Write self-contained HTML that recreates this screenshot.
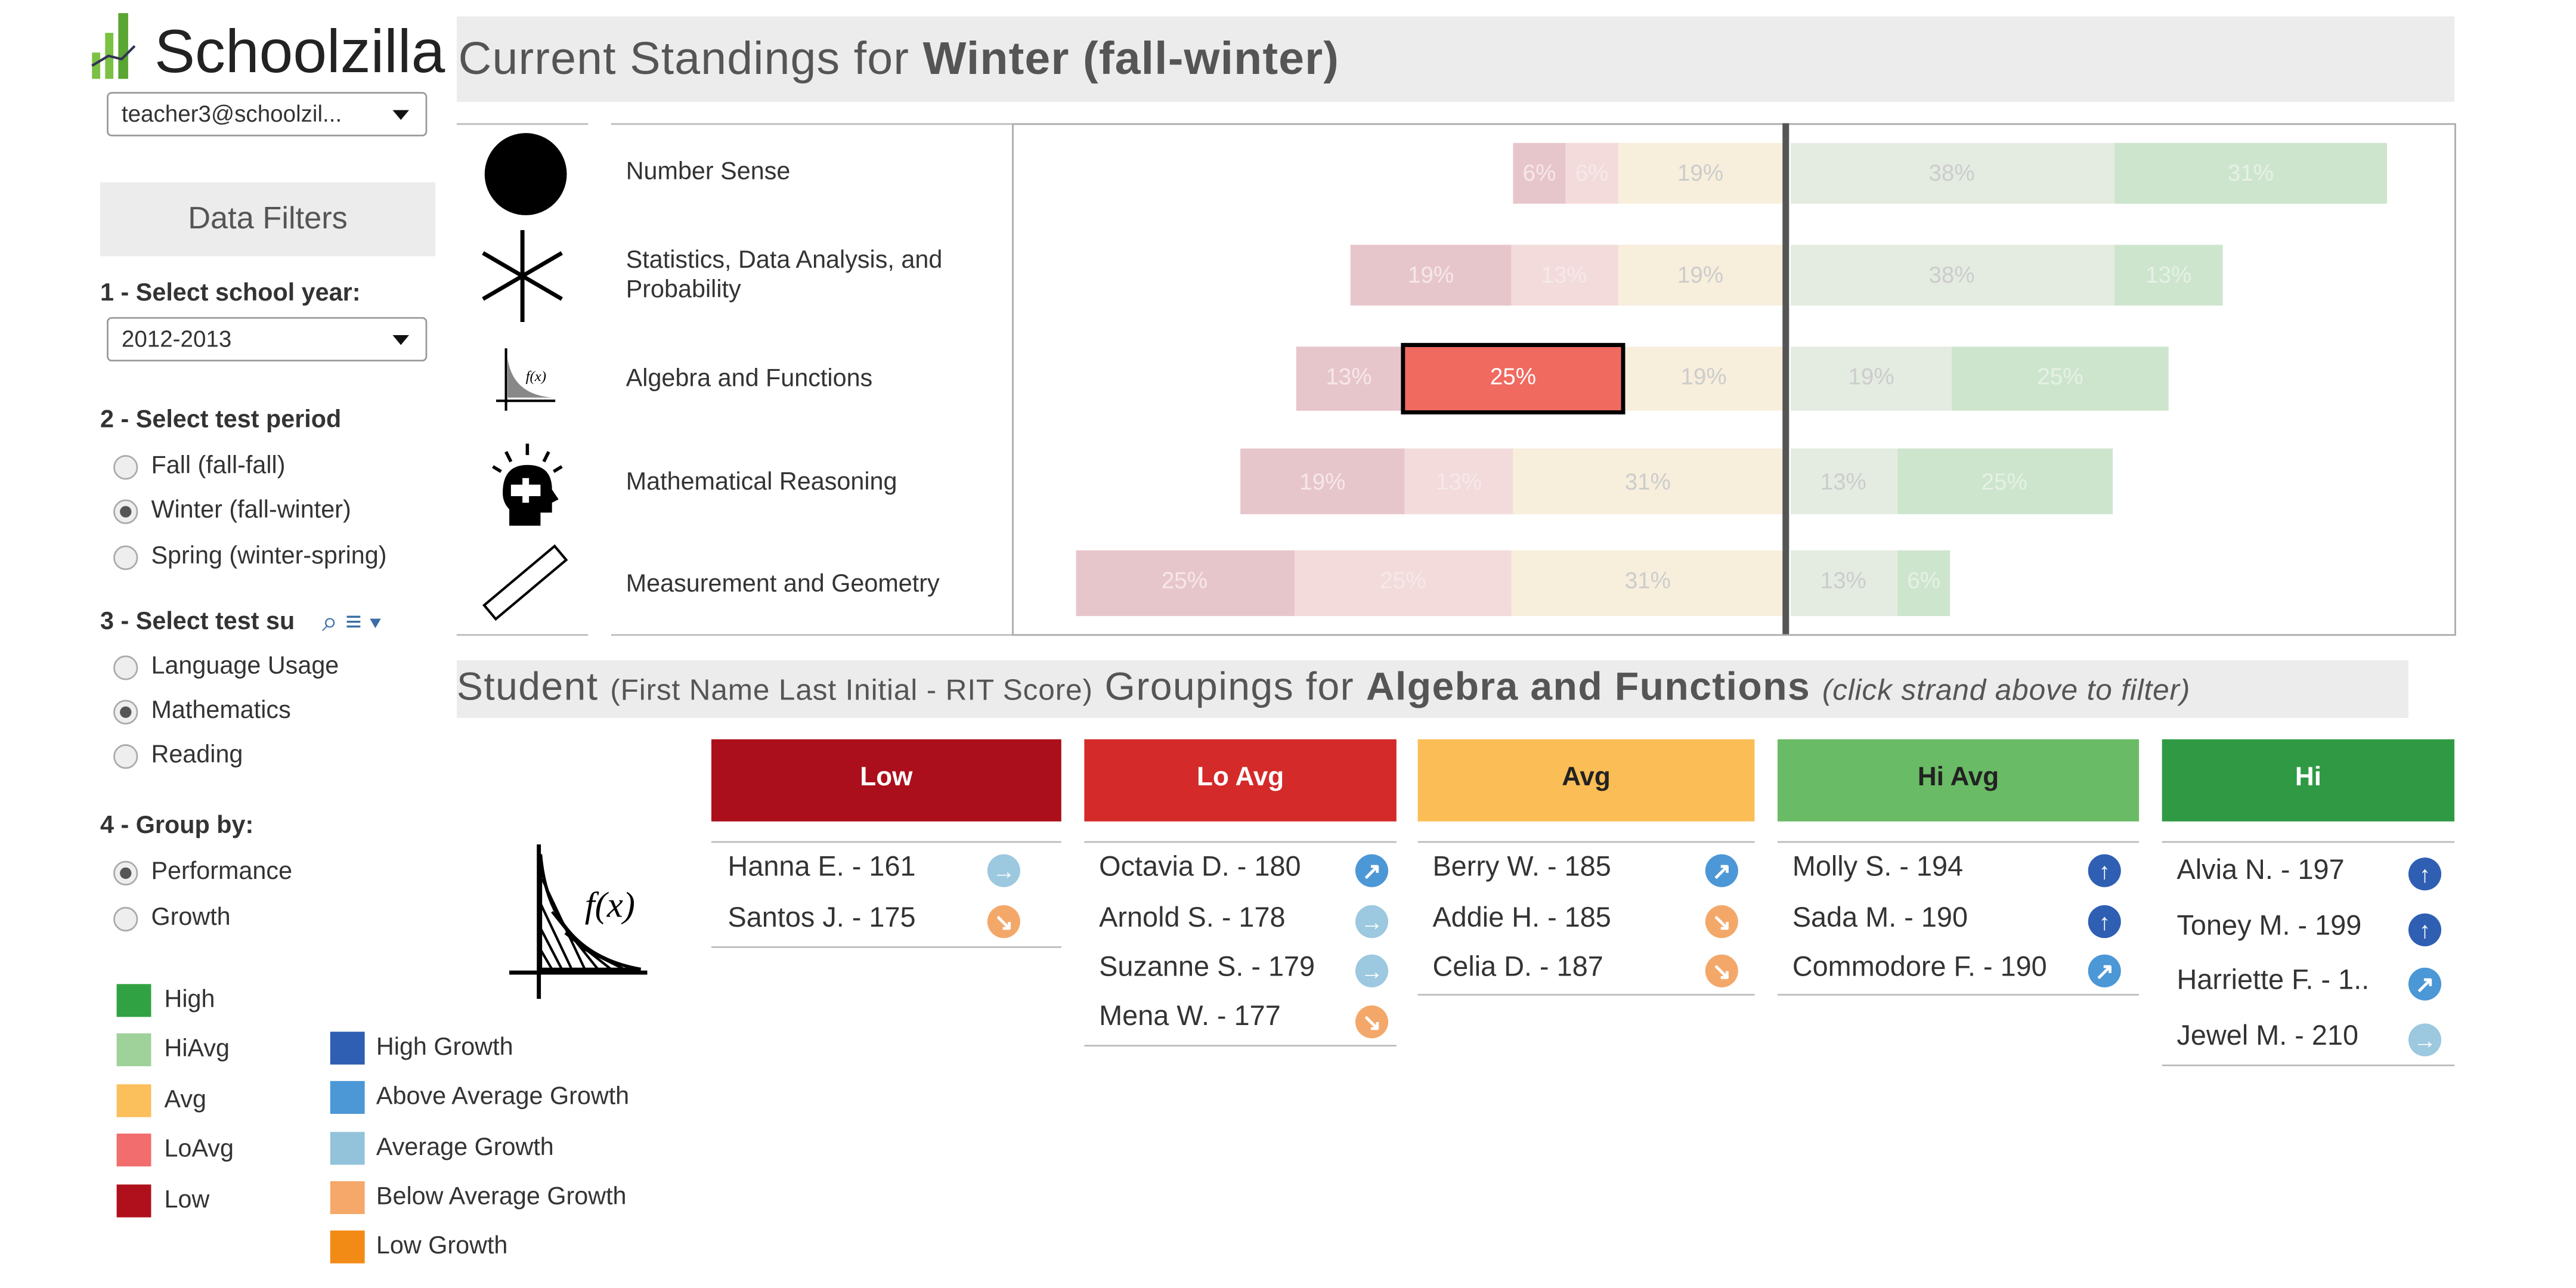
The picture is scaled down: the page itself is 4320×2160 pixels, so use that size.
<!DOCTYPE html>
<html><head><meta charset="utf-8"><style>
html,body{margin:0;padding:0;background:#fff;overflow:hidden;width:4320px;height:2160px}
#w{position:absolute;left:0;top:0;width:1568px;height:784px;transform:scale(2.7551);transform-origin:0 0;font-family:"Liberation Sans",Arial,sans-serif;color:#333}
.a{position:absolute}
.t{position:absolute;white-space:nowrap}
.hdr{background:#ececec}
.sel{position:absolute;border:1px solid #999;border-radius:3px;height:27px;box-sizing:border-box;font-size:14px;line-height:25px;padding-left:8px;background:#fff}
.sel:after{content:"";position:absolute;right:10px;top:10px;border:5px solid transparent;border-top:6px solid #111;border-bottom:0}
.rad{position:absolute;width:15px;height:15px;border-radius:50%;border:1px solid #aaa;background:#eee;box-sizing:border-box}
.rad.on:after{content:"";position:absolute;left:3px;top:3px;width:7px;height:7px;border-radius:50%;background:#555}
.lbl{font-size:15px}
.b{font-weight:bold;font-size:15px}
.sq{position:absolute;width:21px;height:20px}
.gh{position:absolute;top:450px;height:50px;color:#fff;font-weight:bold;font-size:16px;text-align:center;line-height:48px}
.row{position:absolute;font-size:17px;color:#333}
.ic{position:absolute;width:20px;height:20px;border-radius:50%;color:#fff;font-size:14px;font-weight:bold;text-align:center;line-height:20px}
.ln{position:absolute;height:1px;background:#bbb}
</style></head><body><div id="w">
<div class="a" style="left:56px;top:32px;width:5px;height:16px;background:#7bc143"></div>
<div class="a" style="left:64px;top:20px;width:5px;height:28px;background:#7bc143"></div>
<div class="a" style="left:72px;top:8px;width:6px;height:40px;background:#5aa632"></div>
<svg class="a" style="left:54px;top:20px" width="30" height="22"><path d="M2 20 L12 14 L20 16 L28 8" stroke="#335" stroke-width="1.5" fill="none"/></svg>
<div class="t" style="left:94px;top:11px;font-size:37px;color:#222">Schoolzilla</div>
<div class="sel" style="left:65px;top:56px;width:195px">teacher3@schoolzil...</div>
<div class="a hdr" style="left:61px;top:111px;width:204px;height:45px;font-size:19px;color:#555;text-align:center;line-height:45px">Data Filters</div>
<div class="t b" style="left:61px;top:170px">1 - Select school year:</div>
<div class="sel" style="left:65px;top:193px;width:195px">2012-2013</div>
<div class="t b" style="left:61px;top:247px">2 - Select test period</div>
<div class="rad" style="left:69px;top:277px"></div><div class="t lbl" style="left:92px;top:275px">Fall (fall-fall)</div>
<div class="rad on" style="left:69px;top:304px"></div><div class="t lbl" style="left:92px;top:302px">Winter (fall-winter)</div>
<div class="rad" style="left:69px;top:332px"></div><div class="t lbl" style="left:92px;top:330px">Spring (winter-spring)</div>
<div class="t b" style="left:61px;top:370px">3 - Select test su</div>
<div class="t" style="left:196px;top:369px;font-size:17px;color:#3a6ea5">⌕ ≡ ▾</div>
<div class="rad" style="left:69px;top:399px"></div><div class="t lbl" style="left:92px;top:397px">Language Usage</div>
<div class="rad on" style="left:69px;top:426px"></div><div class="t lbl" style="left:92px;top:424px">Mathematics</div>
<div class="rad" style="left:69px;top:453px"></div><div class="t lbl" style="left:92px;top:451px">Reading</div>
<div class="t b" style="left:61px;top:494px">4 - Group by:</div>
<div class="rad on" style="left:69px;top:524px"></div><div class="t lbl" style="left:92px;top:522px">Performance</div>
<div class="rad" style="left:69px;top:552px"></div><div class="t lbl" style="left:92px;top:550px">Growth</div>
<div class="sq" style="left:71px;top:599px;background:#31a244"></div><div class="t lbl" style="left:100px;top:600px">High</div>
<div class="sq" style="left:71px;top:629px;background:#9fd19a"></div><div class="t lbl" style="left:100px;top:630px">HiAvg</div>
<div class="sq" style="left:71px;top:660px;background:#fbbf5b"></div><div class="t lbl" style="left:100px;top:661px">Avg</div>
<div class="sq" style="left:71px;top:690px;background:#f26d6d"></div><div class="t lbl" style="left:100px;top:691px">LoAvg</div>
<div class="sq" style="left:71px;top:721px;background:#b0101c"></div><div class="t lbl" style="left:100px;top:722px">Low</div>
<div class="sq" style="left:201px;top:628px;background:#2f5fb3"></div><div class="t lbl" style="left:229px;top:629px">High Growth</div>
<div class="sq" style="left:201px;top:658px;background:#4c97d6"></div><div class="t lbl" style="left:229px;top:659px">Above Average Growth</div>
<div class="sq" style="left:201px;top:689px;background:#93c3da"></div><div class="t lbl" style="left:229px;top:690px">Average Growth</div>
<div class="sq" style="left:201px;top:719px;background:#f5a86a"></div><div class="t lbl" style="left:229px;top:720px">Below Average Growth</div>
<div class="sq" style="left:201px;top:749px;background:#f28a16"></div><div class="t lbl" style="left:229px;top:750px">Low Growth</div>
<div class="a hdr" style="left:278px;top:10px;width:1216px;height:52px"></div>
<div class="t" style="left:279px;top:20px;font-size:28px;color:#555;letter-spacing:0.4px">Current Standings for <b>Winter (fall-winter)</b></div>
<div class="a" style="left:616px;top:75px;width:877px;height:310px;border:1px solid #aaa"></div>
<div class="ln" style="left:278px;top:75px;width:80px"></div><div class="ln" style="left:372px;top:75px;width:244px"></div>
<div class="ln" style="left:278px;top:386px;width:80px"></div><div class="ln" style="left:372px;top:386px;width:244px"></div>
<div class="a" style="left:295px;top:81px;width:50px;height:50px;border-radius:50%;background:#000"></div>
<svg class="a" style="left:292px;top:140px" width="56" height="60"><g stroke="#000" stroke-width="2.5"><line x1="26" y1="0" x2="26" y2="56"/><line x1="2" y1="14" x2="50" y2="42"/><line x1="2" y1="42" x2="50" y2="14"/></g></svg>
<svg class="a" style="left:300px;top:210px" width="40" height="42"><path d="M8 2 V40 M2 34 H38" stroke="#000" stroke-width="1.5"/><path d="M9 8 Q12 30 36 32 L9 32Z" fill="#888"/><text x="20" y="22" font-size="9" font-style="italic" font-family="Liberation Serif">f(x)</text></svg>
<svg class="a" style="left:296px;top:270px" width="50" height="52"><g stroke="#000" stroke-width="2"><line x1="25" y1="0" x2="25" y2="7"/><line x1="12" y1="5" x2="15" y2="11"/><line x1="38" y1="5" x2="35" y2="11"/><line x1="4" y1="14" x2="9" y2="17"/><line x1="46" y1="14" x2="41" y2="17"/></g><path d="M10 30 Q10 13 25 13 Q40 13 40 28 L44 34 L40 36 L40 42 L33 42 L33 50 L14 50 L14 40 Q10 36 10 30Z" fill="#000"/><rect x="15" y="25" width="18" height="7" fill="#fff"/><rect x="22" y="21" width="4" height="15" fill="#fff"/></svg>
<svg class="a" style="left:292px;top:330px" width="56" height="50"><g transform="rotate(-40 28 25)"><rect x="0" y="19" width="56" height="11" fill="none" stroke="#000" stroke-width="1.5"/></g></svg>
<div class="t" style="left:381px;top:96px;font-size:15px">Number Sense</div>
<div class="t" style="left:381px;top:150px;font-size:15px;line-height:18px">Statistics, Data Analysis, and<br>Probability</div>
<div class="t" style="left:381px;top:222px;font-size:15px">Algebra and Functions</div>
<div class="t" style="left:381px;top:285px;font-size:15px">Mathematical Reasoning</div>
<div class="t" style="left:381px;top:347px;font-size:15px">Measurement and Geometry</div>
<svg class="a" style="left:0;top:0" width="1568" height="400" font-family="Liberation Sans,Arial,sans-serif" font-size="14" text-anchor="middle">
<g>
<rect x="921" y="87" width="32" height="37" fill="#e7c6cb"/><rect x="953" y="87" width="32" height="37" fill="#f3dbdb"/><rect x="985" y="87" width="101" height="37" fill="#f7eedc"/><rect x="1090" y="87" width="197" height="37" fill="#e4ece2"/><rect x="1287" y="87" width="166" height="37" fill="#cde5cd"/>
<rect x="822" y="149" width="98" height="37" fill="#e7c6cb"/><rect x="920" y="149" width="65" height="37" fill="#f3dbdb"/><rect x="985" y="149" width="101" height="37" fill="#f7eedc"/><rect x="1090" y="149" width="197" height="37" fill="#e4ece2"/><rect x="1287" y="149" width="66" height="37" fill="#cde5cd"/>
<rect x="789" y="211" width="64" height="39" fill="#e7c6cb"/><rect x="989" y="211" width="97" height="39" fill="#f7eedc"/><rect x="1090" y="211" width="98" height="39" fill="#e4ece2"/><rect x="1188" y="211" width="132" height="39" fill="#cde5cd"/>
<rect x="854" y="210" width="134" height="41" fill="#f06a5f" stroke="#000" stroke-width="2.5"/>
<rect x="755" y="273" width="100" height="40" fill="#e7c6cb"/><rect x="855" y="273" width="66" height="40" fill="#f3dbdb"/><rect x="921" y="273" width="165" height="40" fill="#f7eedc"/><rect x="1090" y="273" width="65" height="40" fill="#e4ece2"/><rect x="1155" y="273" width="131" height="40" fill="#cde5cd"/>
<rect x="655" y="335" width="133" height="40" fill="#e7c6cb"/><rect x="788" y="335" width="132" height="40" fill="#f3dbdb"/><rect x="920" y="335" width="166" height="40" fill="#f7eedc"/><rect x="1090" y="335" width="65" height="40" fill="#e4ece2"/><rect x="1155" y="335" width="32" height="40" fill="#cde5cd"/>
</g>
<g fill="#f6e8ea"><text x="937" y="110">6%</text><text x="969" y="110">6%</text><text x="871" y="172">19%</text><text x="952" y="172">13%</text><text x="821" y="234">13%</text><text x="805" y="298">19%</text><text x="888" y="298">13%</text><text x="721" y="358">25%</text><text x="854" y="358">25%</text></g>
<g fill="#e6f1e6"><text x="1370" y="110">31%</text><text x="1320" y="172">13%</text><text x="1254" y="234">25%</text><text x="1220" y="298">25%</text><text x="1171" y="358">6%</text></g>
<g fill="#cccccc"><text x="1035" y="110">19%</text><text x="1188" y="110">38%</text><text x="1035" y="172">19%</text><text x="1188" y="172">38%</text><text x="1037" y="234">19%</text><text x="1139" y="234">19%</text><text x="1003" y="298">31%</text><text x="1122" y="298">13%</text><text x="1003" y="358">31%</text><text x="1122" y="358">13%</text></g>
<text x="921" y="234" fill="#fff">25%</text>
<rect x="1085" y="75" width="4" height="311" fill="#555"/>
</svg>
<div class="a hdr" style="left:278px;top:402px;width:1188px;height:35px"></div>
<div class="t" style="left:278px;top:405px;font-size:24px;color:#555;letter-spacing:0.5px">Student <span style="font-size:18px;letter-spacing:0.3px">(First Name Last Initial - RIT Score)</span> Groupings for <b>Algebra and Functions</b> <i style="font-size:18px;letter-spacing:0.3px">(click strand above to filter)</i></div>
<svg class="a" style="left:308px;top:510px" width="90" height="100"><path d="M20 4 V98 M2 82 H86" stroke="#000" stroke-width="2.5"/><path d="M21 10 Q26 70 82 80 L21 80Z" fill="#fff" stroke="#000" stroke-width="2"/><g stroke="#000" stroke-width="1.5"><line x1="21" y1="40" x2="40" y2="80"/><line x1="21" y1="55" x2="34" y2="80"/><line x1="21" y1="68" x2="28" y2="80"/><line x1="22" y1="25" x2="48" y2="80"/><line x1="28" y1="45" x2="56" y2="80"/><line x1="36" y1="58" x2="64" y2="80"/><line x1="46" y1="67" x2="72" y2="80"/></g><text x="48" y="48" font-size="22" font-style="italic" font-family="Liberation Serif">f(x)</text></svg>
<div class="gh" style="left:433px;width:213px;background:#ab0f1b">Low</div>
<div class="gh" style="left:660px;width:190px;background:#d42a2a">Lo Avg</div>
<div class="gh" style="left:863px;width:205px;background:#fbbd55;color:#222">Avg</div>
<div class="gh" style="left:1082px;width:220px;background:#6abb65;color:#222">Hi Avg</div>
<div class="gh" style="left:1316px;width:178px;background:#2f9a43">Hi</div>
<div class="ln" style="left:433px;top:512px;width:213px"></div><div class="ln" style="left:433px;top:576px;width:213px"></div>
<div class="ln" style="left:660px;top:512px;width:190px"></div><div class="ln" style="left:660px;top:636px;width:190px"></div>
<div class="ln" style="left:863px;top:512px;width:205px"></div><div class="ln" style="left:863px;top:605px;width:205px"></div>
<div class="ln" style="left:1082px;top:512px;width:220px"></div><div class="ln" style="left:1082px;top:605px;width:220px"></div>
<div class="ln" style="left:1316px;top:512px;width:178px"></div><div class="ln" style="left:1316px;top:648px;width:178px"></div>
<div class="row" style="left:443px;top:518px">Hanna E. - 161</div><div class="ic" style="left:601px;top:520px;background:#9cc8e0">→</div>
<div class="row" style="left:443px;top:549px">Santos J. - 175</div><div class="ic" style="left:601px;top:551px;background:#f3a86a">↘</div>
<div class="row" style="left:669px;top:518px">Octavia D. - 180</div><div class="ic" style="left:825px;top:520px;background:#4c97d6">↗</div>
<div class="row" style="left:669px;top:549px">Arnold S. - 178</div><div class="ic" style="left:825px;top:551px;background:#9cc8e0">→</div>
<div class="row" style="left:669px;top:579px">Suzanne S. - 179</div><div class="ic" style="left:825px;top:581px;background:#9cc8e0">→</div>
<div class="row" style="left:669px;top:609px">Mena W. - 177</div><div class="ic" style="left:825px;top:612px;background:#f3a86a">↘</div>
<div class="row" style="left:872px;top:518px">Berry W. - 185</div><div class="ic" style="left:1038px;top:520px;background:#4c97d6">↗</div>
<div class="row" style="left:872px;top:549px">Addie H. - 185</div><div class="ic" style="left:1038px;top:551px;background:#f3a86a">↘</div>
<div class="row" style="left:872px;top:579px">Celia D. - 187</div><div class="ic" style="left:1038px;top:581px;background:#f3a86a">↘</div>
<div class="row" style="left:1091px;top:518px">Molly S. - 194</div><div class="ic" style="left:1271px;top:520px;background:#2f5fb3">↑</div>
<div class="row" style="left:1091px;top:549px">Sada M. - 190</div><div class="ic" style="left:1271px;top:551px;background:#2f5fb3">↑</div>
<div class="row" style="left:1091px;top:579px">Commodore F. - 190</div><div class="ic" style="left:1271px;top:581px;background:#4c97d6">↗</div>
<div class="row" style="left:1325px;top:520px">Alvia N. - 197</div><div class="ic" style="left:1466px;top:522px;background:#2f5fb3">↑</div>
<div class="row" style="left:1325px;top:554px">Toney M. - 199</div><div class="ic" style="left:1466px;top:556px;background:#2f5fb3">↑</div>
<div class="row" style="left:1325px;top:587px">Harriette F. - 1..</div><div class="ic" style="left:1466px;top:589px;background:#4c97d6">↗</div>
<div class="row" style="left:1325px;top:621px">Jewel M. - 210</div><div class="ic" style="left:1466px;top:623px;background:#9cc8e0">→</div>
</div></body></html>
